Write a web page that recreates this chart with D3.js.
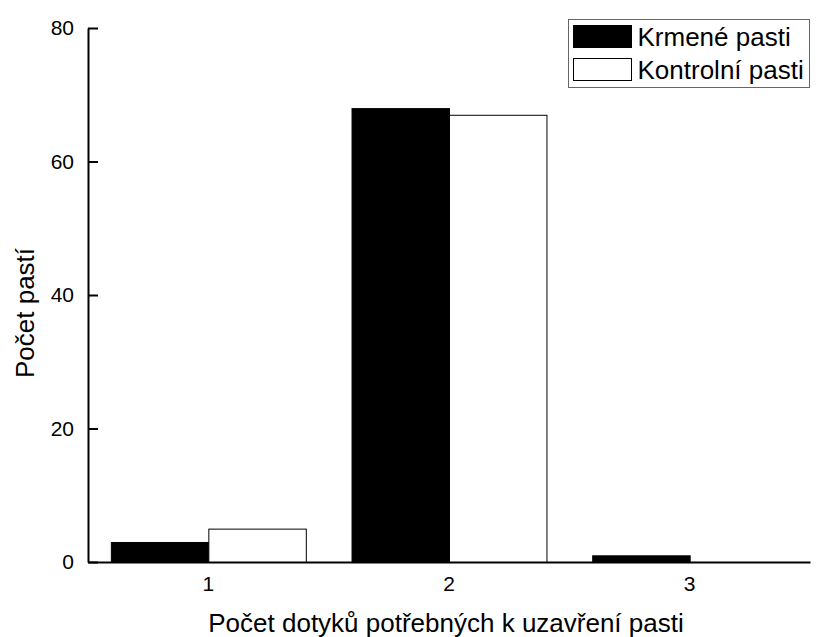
<!DOCTYPE html>
<style>
body { margin: 0; background: #fff; }
text { font-family: "Liberation Sans", Arial, sans-serif; }
</style>
<svg width="816" height="637" class="chart"></svg>
<script src="https://d3js.org/d3.v7.min.js"></script>
<script>

var categories = ["1", "2", "3"];
var series = ["Krmené pasti", "Kontrolní pasti"];
var krmene = [3, 68, 1];
var kontrolni = [5, 67, 0];
var yTicks = [0, 20, 40, 60, 80];
var colors = ["#000", "#fff"];

var data = categories.map(function(c, i) {
  return {cat: c, values: [krmene[i], kontrolni[i]]};
});

var svg = d3.select(".chart"),
    margin = {top: 28, right: 6, bottom: 75, left: 88},
    width = +svg.attr("width") - margin.left - margin.right,
    height = +svg.attr("height") - margin.top - margin.bottom,
    g = svg.append("g").attr("transform", "translate(" + margin.left + "," + margin.top + ")");

var x0 = d3.scaleBand()
    .domain(categories)
    .range([0, width])
    .paddingInner(0.19)
    .paddingOuter(0.095);

var x1 = d3.scaleBand()
    .domain(d3.range(series.length))
    .range([0, x0.bandwidth()]);

var y = d3.scaleLinear()
    .domain([0, 80])
    .range([height, 0]);

// bars
g.append("g")
  .selectAll("g")
  .data(data)
  .enter().append("g")
    .attr("transform", function(d) { return "translate(" + x0(d.cat) + ",0)"; })
  .selectAll("rect")
  .data(function(d) { return d.values.map(function(v, i) { return {key: i, value: v}; }); })
  .enter().append("rect")
    .filter(function(d) { return d.value > 0; })
    .attr("x", function(d) { return x1(d.key) + 0.5; })
    .attr("y", function(d) { return y(d.value) + 0.5; })
    .attr("width", x1.bandwidth())
    .attr("height", function(d) { return height - y(d.value); })
    .attr("fill", function(d) { return colors[d.key]; })
    .attr("stroke", "#000")
    .attr("stroke-width", 1);

// y axis, ticks pointing inward
var yAxis = g.append("g")
    .call(d3.axisRight(y).tickValues(yTicks).tickSize(10).tickSizeOuter(0).tickPadding(-24));
yAxis.select(".domain").attr("stroke-width", 2);
yAxis.selectAll(".tick line").attr("stroke-width", 2);
yAxis.selectAll("text")
    .attr("text-anchor", "end")
    .attr("font-size", 21)
    .attr("font-family", "Liberation Sans, Arial, sans-serif");

// x axis, no ticks
var xAxis = g.append("g")
    .attr("transform", "translate(0," + height + ")")
    .call(d3.axisBottom(x0).tickSize(0).tickPadding(14));
xAxis.select(".domain").attr("stroke-width", 2);
xAxis.selectAll("text")
    .attr("font-size", 21)
    .attr("font-family", "Liberation Sans, Arial, sans-serif");

// axis titles
svg.append("text")
    .attr("x", margin.left + width / 2 - 3)
    .attr("y", 632)
    .attr("text-anchor", "middle")
    .attr("font-size", 26)
    .text("Počet dotyků potřebných k uzavření pasti");

svg.append("text")
    .attr("transform", "translate(34,313) rotate(-90)")
    .attr("text-anchor", "middle")
    .attr("font-size", 26)
    .text("Počet pastí");

// legend
var legend = svg.append("g")
    .attr("transform", "translate(568.5,19.5)");

legend.append("rect")
    .attr("width", 241)
    .attr("height", 68)
    .attr("fill", "#fff")
    .attr("stroke", "#666")
    .attr("stroke-width", 1);

var item = legend.selectAll(".item")
    .data(series)
    .enter().append("g")
      .attr("class", "item")
      .attr("transform", function(d, i) { return "translate(5," + (6 + i * 33) + ")"; });

item.append("rect")
    .attr("width", 58)
    .attr("height", 22)
    .attr("fill", function(d, i) { return colors[i]; })
    .attr("stroke", "#000");

item.append("text")
    .attr("x", 64)
    .attr("y", 20)
    .attr("font-size", 26)
    .text(function(d) { return d; });

</script>
